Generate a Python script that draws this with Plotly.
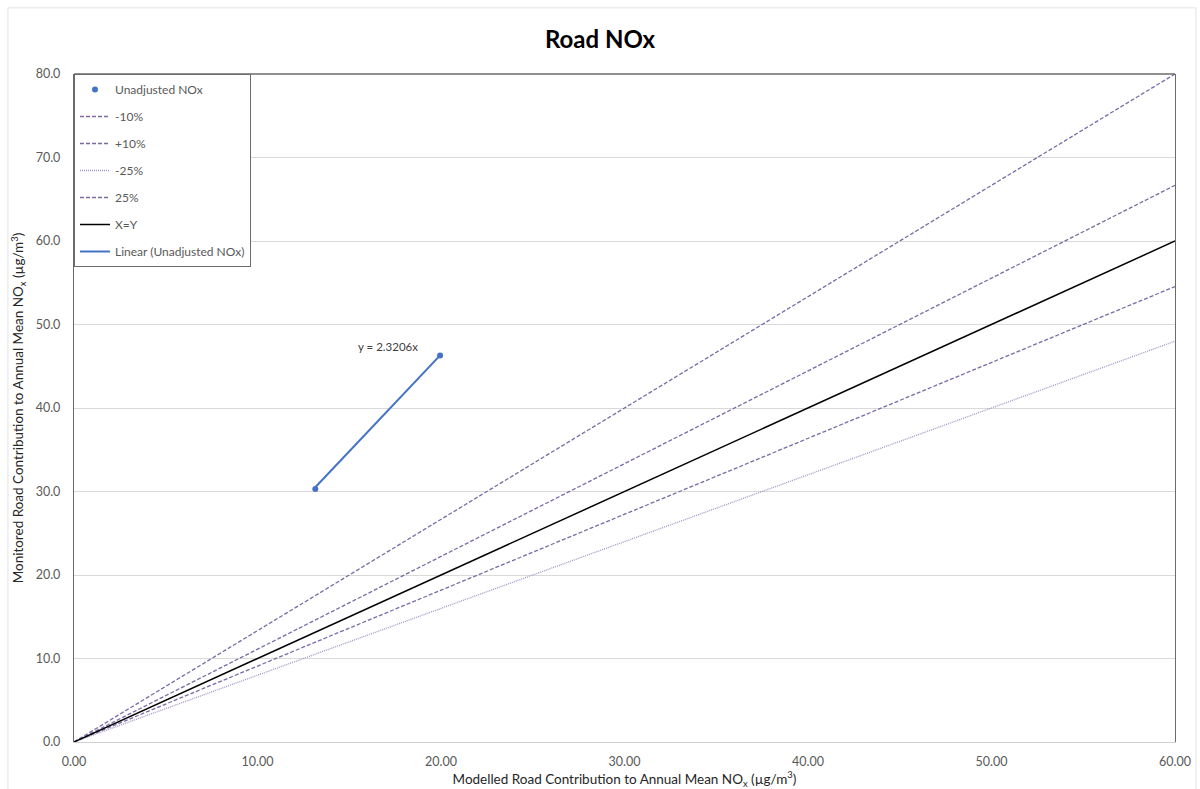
import plotly.graph_objects as go

# Observed vs modelled road NOx contributions (µg/m³)
site_modelled = [13.15, 19.95]
site_monitored = [30.3, 46.3]

# Fitted trendline through the origin
trend_slope = 2.3206

# Reference envelope lines: name, factor applied to modelled value, dash
ref_x = [0, 60]
ref_names = ["-10%", "+10%", "-25%", "25%"]
ref_factors = [1 / 1.1, 1 / 0.9, 1 / 1.25, 1 / 0.75]
ref_dashes = ["4px,2px", "4px,2px", "1px,1px", "4px,2px"]
ref_colors = ["#7b6aa6", "#7b6aa6", "#a394c8", "#7b6aa6"]

x_ticks = [0, 10, 20, 30, 40, 50, 60]
y_ticks = [0, 10, 20, 30, 40, 50, 60, 70, 80]

FONT = "Lato, 'Open Sans', sans-serif"
TICK_COLOR = "#595959"

fig = go.Figure()

fig.add_trace(go.Scatter(
    x=site_modelled, y=site_monitored, mode="markers", name="Unadjusted NOx",
    marker=dict(color="#4472C4", size=6), legendgroup="a",
))

for i, (nm, f, d, c) in enumerate(zip(ref_names, ref_factors, ref_dashes, ref_colors)):
    fig.add_trace(go.Scatter(
        x=ref_x, y=[v * f for v in ref_x], mode="lines", name=nm,
        line=dict(color=c, width=1.3, dash=d), legendgroup=f"r{i}",
    ))

fig.add_trace(go.Scatter(
    x=ref_x, y=ref_x, mode="lines", name="X=Y",
    line=dict(color="#000000", width=1.5), legendgroup="xy",
))

trend_x = [min(site_modelled), max(site_modelled)]
fig.add_trace(go.Scatter(
    x=trend_x, y=[trend_slope * v for v in trend_x], mode="lines",
    name="Linear (Unadjusted NOx)",
    line=dict(color="#4472C4", width=2), legendgroup="lin",
))

fig.add_annotation(
    x=17.1, y=47.4, text=f"y = {trend_slope}x", showarrow=False,
    font=dict(family=FONT, size=11.5, color="#404040"),
)

# Outer chart frame
fig.add_shape(type="rect", xref="paper", yref="paper",
              x0=-0.06, x1=1.019, y0=-0.2, y1=1.099,
              line=dict(color="#e3e3e3", width=1), layer="below")
# Top edge of the plot area
fig.add_shape(type="line", xref="paper", yref="paper",
              x0=0, x1=1, y0=1, y1=1,
              line=dict(color="#6b6b6b", width=1.3))

fig.update_layout(
    width=1200, height=789,
    margin=dict(l=74, r=25, t=74, b=47),
    paper_bgcolor="white", plot_bgcolor="white",
    title=dict(text="<b>Road NOx</b>", x=0.5, xanchor="center", y=0.95, yanchor="middle",
               font=dict(family=FONT, size=24, color="#000000")),
    font=dict(family=FONT, color=TICK_COLOR),
    showlegend=True,
    legend=dict(
        x=0, y=1, xanchor="left", yanchor="top",
        bgcolor="white", bordercolor="#6b6b6b", borderwidth=1,
        font=dict(family=FONT, size=12, color=TICK_COLOR),
        traceorder="grouped", tracegroupgap=8,
    ),
    xaxis=dict(
        range=[0, 60], tickvals=x_ticks, tickformat=".2f",
        showgrid=False, zeroline=False, automargin=False,
        showline=True, linecolor="#d0d0d0", linewidth=1,
        ticks="outside", ticklen=8, tickcolor="rgba(0,0,0,0)",
        tickfont=dict(family=FONT, size=12.5, color=TICK_COLOR),
        title=dict(text="Modelled Road Contribution to Annual Mean NO<sub>x</sub> (µg/m<sup>3</sup>)",
                   font=dict(family=FONT, size=13.5, color="#262626"), standoff=6),
    ),
    yaxis=dict(
        range=[0, 80], tickvals=y_ticks, tickformat=".1f",
        showgrid=True, gridcolor="#d9d9d9", gridwidth=1, zeroline=False, automargin=False,
        showline=True, mirror=True, linecolor="#6b6b6b", linewidth=1.3,
        ticks="outside", ticklen=10, tickcolor="rgba(0,0,0,0)",
        tickfont=dict(family=FONT, size=12.5, color=TICK_COLOR),
        title=dict(text="Monitored Road Contribution to Annual Mean NO<sub>x</sub> (µg/m<sup>3</sup>)",
                   font=dict(family=FONT, size=13.5, color="#262626"), standoff=8),
    ),
)

fig.write_html("out.html")
